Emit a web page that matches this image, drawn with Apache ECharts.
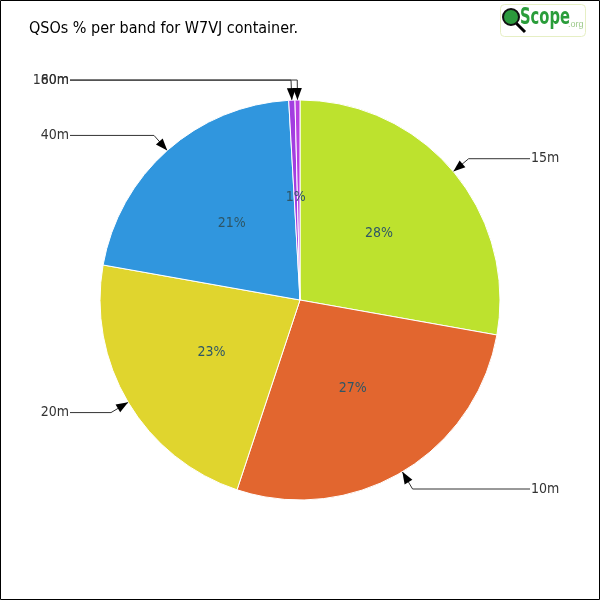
<!DOCTYPE html>
<html><head><meta charset="utf-8">
<script src="https://cdn.jsdelivr.net/npm/echarts@6/dist/echarts.min.js"></script>
<style>html,body{margin:0;padding:0;background:#fff}#c{width:600px;height:600px}</style>
</head><body><div id="c"></div>
<script>
const bands = ['15m', '10m', '20m', '40m', '80m', '160m'];
const qsoCounts = [278, 273, 227, 213, 5, 4];
const bandColors = ['#bde22e', '#e2662f', '#e0d52e', '#3096de', '#a23ee0', '#b940e2'];
const titleText = 'QSOs % per band for W7VJ container.';

const FONT = '"DejaVu Sans Condensed", "DejaVu Sans", sans-serif';
const seriesData = bands.map((b, i) => ({ name: b, value: qsoCounts[i], itemStyle: { color: bandColors[i] } }));

const chart = echarts.init(document.getElementById('c'), null, { renderer: 'canvas' });
chart.setOption({
  animation: false,
  title: { text: titleText, left: 24, top: 16, textStyle: { fontFamily: FONT, fontSize: 16, fontWeight: 'normal', color: '#000' } },
  series: [
    {
      type: 'pie', center: [300, 300], radius: 200, startAngle: 90, clockwise: true,
      avoidLabelOverlap: false, silent: true,
      data: seriesData,
      itemStyle: { borderColor: '#fff', borderWidth: 1 },
      label: { show: true, position: 'outside', formatter: '{b}', fontFamily: FONT, fontSize: 14, color: '#333' },
      labelLine: { show: true, length: 20, length2: 40, smooth: false, lineStyle: { color: '#333', width: 1 } },
      labelLayout: function (p) {
        const pts = p.labelLinePoints;
        if (!pts) return {};
        const left = pts[1][0] < 300;
        const endX = left ? 70 : 530;
        const np = [pts[0].slice(), pts[1].slice(), [endX, pts[1][1]]];
        return { x: left ? endX - 1 : endX + 1, y: pts[1][1], align: left ? 'right' : 'left', verticalAlign: 'middle', labelLinePoints: np };
      }
    },
    {
      type: 'pie', center: [300, 300], radius: 200, startAngle: 90, clockwise: true,
      avoidLabelOverlap: false, silent: true,
      data: seriesData.map(d => ({ name: d.name, value: d.value })),
      itemStyle: { color: 'rgba(0,0,0,0)' },
      label: { show: true, position: 'inside', formatter: p => Math.round(p.percent) + '%', fontFamily: FONT, fontSize: 14, color: '#2e5666' },
      labelLine: { show: false }
    }
  ]
});

// arrow heads at the start of each label line, derived from the pie layout
const data = chart.getModel().getSeriesByIndex(0).getData();
const graphics = [
  { type: 'rect', shape: { x: 0.5, y: 0.5, width: 599, height: 599 }, style: { fill: 'none', stroke: '#000', lineWidth: 1 }, silent: true, z: 100 },
  // logo
  { type: 'rect', shape: { x: 500.5, y: 4.5, width: 85, height: 32, r: 4 }, style: { fill: '#fff', stroke: '#e6efc4', lineWidth: 1 }, z: 10 },
  { type: 'line', shape: { x1: 515, y1: 22, x2: 525, y2: 32 }, style: { stroke: '#000', lineWidth: 3 }, z: 11 },
  { type: 'circle', shape: { cx: 511, cy: 17, r: 8 }, style: { fill: '#2c9a3c', stroke: '#111', lineWidth: 2 }, z: 12 },
  { type: 'text', x: 520, y: 7, scaleX: 0.64, style: { text: 'Scope', font: 'bold 23px "DejaVu Sans", sans-serif', fill: '#2a9d3a' }, z: 12 },
  { type: 'text', x: 568, y: 20, style: { text: '.org', font: '9px sans-serif', fill: '#9cc98a' }, z: 12 }
];
for (let i = 0; i < data.count(); i++) {
  const L = data.getItemLayout(i);
  const mid = (L.startAngle + L.endAngle) / 2;
  const dx = Math.cos(mid), dy = Math.sin(mid);
  const tipX = L.cx + L.r * dx, tipY = L.cy + L.r * dy;
  const len = 12, half = 4.5;
  const bx = tipX + dx * len, by = tipY + dy * len;
  const px = -dy, py = dx;
  graphics.push({ type: 'polygon', shape: { points: [[tipX, tipY], [bx + px * half, by + py * half], [bx - px * half, by - py * half]] }, style: { fill: '#000' }, silent: true, z: 50 });
}
chart.setOption({ graphic: graphics });
</script></body></html>
